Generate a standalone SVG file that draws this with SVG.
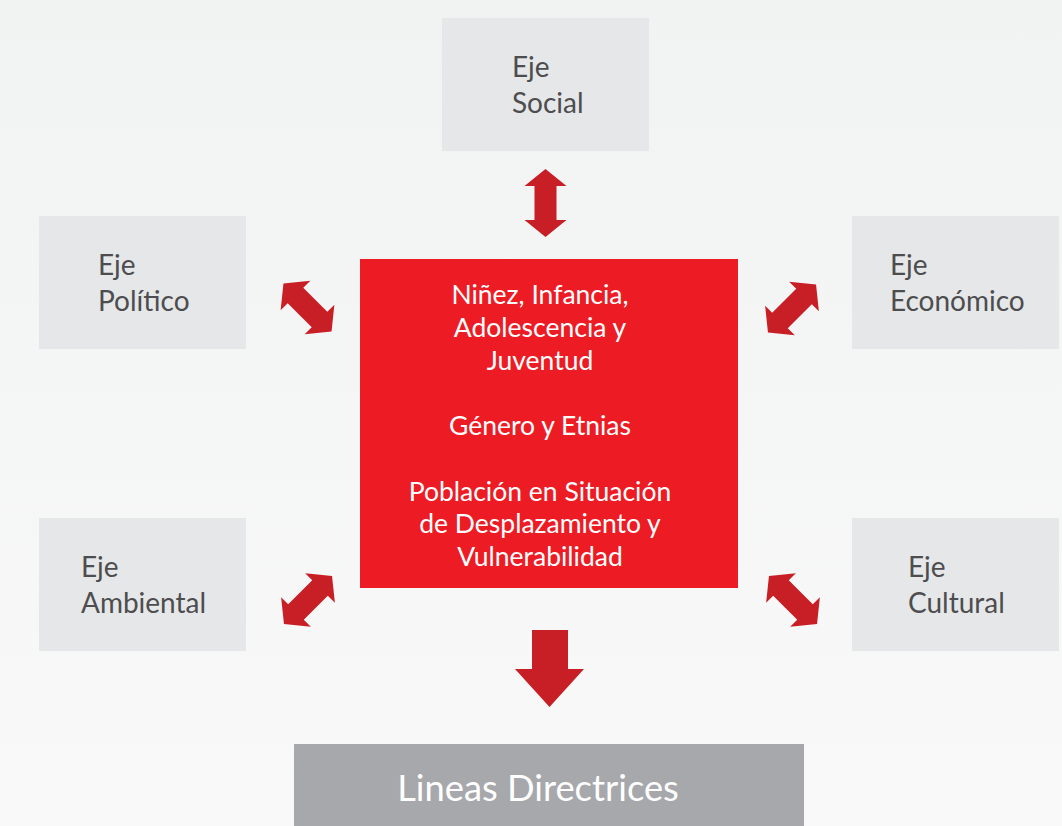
<svg xmlns="http://www.w3.org/2000/svg" xmlns:xlink="http://www.w3.org/1999/xlink" width="1062" height="826" viewBox="0 0 1062 826">
<defs>
<linearGradient id="bg" x1="0" y1="0" x2="0" y2="1">
<stop offset="0" stop-color="#f1f2f2"/>
<stop offset="1" stop-color="#f9f9f9"/>
</linearGradient>
<path id="dbl" d="M0,-34 L21,-17 L11,-17 L11,17 L21,17 L0,34 L-21,17 L-11,17 L-11,-17 L-21,-17 Z"/>
<style>
.axis rect{fill:#e6e7e8}
.axis text{font-family:Lato,"Liberation Sans",sans-serif;font-size:28px;fill:#4d4d4f}
.core text{font-family:Lato,"Liberation Sans",sans-serif;font-size:26.5px;fill:#ffffff;text-anchor:middle}
.arrow{fill:#c81f26}
</style>
</defs>
<rect width="1062" height="826" fill="url(#bg)"/>
<g id="eje-social" class="axis">
<rect x="442" y="18" width="207" height="133"/>
<text x="512" y="77">Eje</text>
<text x="512" y="113">Social</text>
</g>
<g id="eje-politico" class="axis">
<rect x="39" y="216" width="207" height="133"/>
<text x="98" y="275">Eje</text>
<text x="98" y="311">Político</text>
</g>
<g id="eje-economico" class="axis">
<rect x="852" y="216" width="207" height="133"/>
<text x="890" y="275">Eje</text>
<text x="890" y="311">Económico</text>
</g>
<g id="eje-ambiental" class="axis">
<rect x="39" y="518" width="207" height="133"/>
<text x="81" y="577">Eje</text>
<text x="81" y="613">Ambiental</text>
</g>
<g id="eje-cultural" class="axis">
<rect x="852" y="518" width="207" height="133"/>
<text x="908" y="577">Eje</text>
<text x="908" y="613">Cultural</text>
</g>
<g id="centro" class="core">
<rect x="360" y="259" width="378" height="329" fill="#ed1c24"/>
<text x="540" y="304">Niñez, Infancia,</text>
<text x="540" y="337">Adolescencia y</text>
<text x="540" y="370">Juventud</text>
<text x="540" y="435">Género y Etnias</text>
<text x="540" y="501">Población en Situación</text>
<text x="540" y="533">de Desplazamiento y</text>
<text x="540" y="566">Vulnerabilidad</text>
</g>
<g id="lineas-directrices">
<rect x="294" y="744" width="510" height="82" fill="#a7a8ab"/>
<text x="538" y="801" font-family="Lato,'Liberation Sans',sans-serif" font-size="36.3" fill="#ffffff" text-anchor="middle">Lineas Directrices</text>
</g>
<g id="connectors" class="arrow">
<use xlink:href="#dbl" transform="translate(545.5,203)"/>
<use xlink:href="#dbl" transform="translate(307.5,307.5) rotate(-45)"/>
<use xlink:href="#dbl" transform="translate(792,308.5) rotate(45)"/>
<use xlink:href="#dbl" transform="translate(308,600) rotate(45)"/>
<use xlink:href="#dbl" transform="translate(793,600) rotate(-45)"/>
<path d="M532,630 H568 V669 H584 L549.5,707 L515,669 H532 Z"/>
</g>
</svg>
